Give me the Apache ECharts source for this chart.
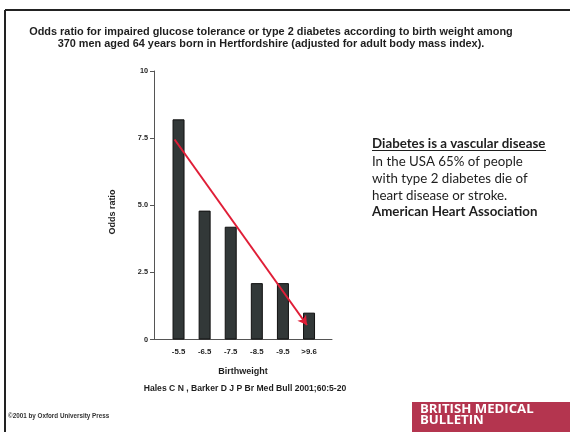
<!DOCTYPE html>
<html>
<head>
<meta charset="utf-8">
<script src="https://cdn.jsdelivr.net/npm/echarts@6/dist/echarts.min.js"></script>
<style>
  html, body { margin: 0; padding: 0; background: #ffffff; }
  #chart { width: 572px; height: 432px; }
</style>
</head>
<body>
<div id="chart"></div>
<script>
// Birth weight groups (lb) and the adjusted odds ratio for each group
const categories = ['-5.5', '-6.5', '-7.5', '-8.5', '-9.5', '>9.6'];
const oddsRatios = [8.2, 4.8, 4.2, 2.1, 2.1, 1.0];
const yTicks = [0, 2.5, 5, 7.5, 10];
// Trend arrow, given as [group position, odds ratio]
const trendStart = [-0.15, 7.45];
const trendEnd = [4.92, 0.54];

const chart = echarts.init(document.getElementById('chart'));

const ink = '#1e1e1e';
const sans = '"Liberation Sans", Arial, sans-serif';
const noteFont = 'Lato, "Open Sans", sans-serif';

chart.setOption({
  animation: false,
  backgroundColor: '#ffffff',
  title: {
    text: 'Odds ratio for impaired glucose tolerance or type 2 diabetes according to birth weight among\n370 men aged 64 years born in Hertfordshire (adjusted for adult body mass index).',
    left: 266,
    top: 21,
    textAlign: 'center',
    textStyle: {
      fontFamily: sans,
      fontWeight: 'bold',
      fontSize: 10.9,
      lineHeight: 12,
      color: ink
    }
  },
  grid: {
    left: 154,
    top: 71,
    width: 178,
    height: 268.5,
    containLabel: false
  },
  xAxis: {
    type: 'value',
    min: -0.94,
    max: 5.88,
    splitLine: { show: false },
    axisLine: { show: true, onZero: false, lineStyle: { color: '#555', width: 1 } },
    axisTick: { show: false },
    axisLabel: {
      show: true,
      customValues: categories.map((c, i) => i),
      formatter: v => categories[Math.round(v)],
      margin: 8,
      fontFamily: sans,
      fontWeight: 'bold',
      fontSize: 7.8,
      color: ink
    },
    name: 'Birthweight',
    nameLocation: 'middle',
    nameGap: 28,
    nameTextStyle: {
      fontFamily: sans,
      fontWeight: 'bold',
      fontSize: 9,
      color: ink
    }
  },
  yAxis: {
    type: 'value',
    min: yTicks[0],
    max: yTicks[yTicks.length - 1],
    interval: 2.5,
    splitLine: { show: false },
    axisLine: { show: true, onZero: false, lineStyle: { color: '#555', width: 1 } },
    axisTick: { show: true, length: 4, lineStyle: { color: '#555' } },
    axisLabel: {
      margin: 6,
      fontFamily: sans,
      fontWeight: 'bold',
      fontSize: 7.3,
      color: ink,
      formatter: v => (v === 0 ? '0' : v === 10 ? '10' : v.toFixed(1))
    }
  },
  series: [
    {
      type: 'bar',
      barWidth: 12,
      data: oddsRatios.map((v, i) => [i, v]),
      itemStyle: {
        color: '#323838',
        borderColor: '#111',
        borderWidth: 1
      },
      markLine: {
        silent: true,
        symbol: ['none', 'arrow'],
        symbolSize: [8, 9],
        label: { show: false },
        lineStyle: { color: '#e01e37', width: 2, type: 'solid' },
        data: [[{ coord: trendStart }, { coord: trendEnd }]]
      }
    }
  ],
  graphic: [
    // slide frame
    { type: 'line', shape: { x1: 5, y1: 10, x2: 570, y2: 10 }, style: { stroke: '#222', lineWidth: 2 } },
    { type: 'line', shape: { x1: 5, y1: 10, x2: 5, y2: 432 }, style: { stroke: '#222', lineWidth: 2 } },
    // y axis title
    {
      type: 'text',
      x: 113, y: 212, rotation: Math.PI / 2,
      style: {
        text: 'Odds ratio', fontFamily: sans, fontWeight: 'bold', fontSize: 9,
        fill: ink, align: 'center', verticalAlign: 'middle'
      }
    },
    // source
    {
      type: 'text', x: 245, y: 389,
      style: {
        text: 'Hales C N , Barker D J P Br Med Bull 2001;60:5-20',
        fontFamily: sans, fontWeight: 'bold', fontSize: 8.6,
        fill: ink, align: 'center', verticalAlign: 'middle'
      }
    },
    // side note
    {
      type: 'text', x: 372, y: 144,
      style: {
        text: 'Diabetes is a vascular disease', fontFamily: noteFont,
        fontWeight: 'bold', fontSize: 13.3, fill: ink, verticalAlign: 'middle'
      }
    },
    { type: 'line', shape: { x1: 372, y1: 150.5, x2: 546, y2: 150.5 }, style: { stroke: ink, lineWidth: 1 } },
    {
      type: 'text', x: 372, y: 153,
      style: {
        text: 'In the USA 65% of people\nwith type 2 diabetes die of\nheart disease or stroke.',
        fontFamily: noteFont, fontSize: 13.3, lineHeight: 17,
        fill: ink, verticalAlign: 'top'
      }
    },
    {
      type: 'text', x: 372, y: 212,
      style: {
        text: 'American Heart Association', fontFamily: noteFont,
        fontWeight: 'bold', fontSize: 13.3, fill: ink, verticalAlign: 'middle'
      }
    },
    // copyright
    {
      type: 'text', x: 8, y: 416,
      style: {
        text: '©2001 by Oxford University Press', fontFamily: sans, fontWeight: 'bold',
        fontSize: 6.3, fill: '#333', verticalAlign: 'middle'
      }
    },
    // journal badge
    { type: 'rect', shape: { x: 412, y: 402, width: 158, height: 30 }, style: { fill: '#b4354f' } },
    {
      type: 'text', x: 420, y: 404,
      style: {
        text: 'BRITISH MEDICAL\nBULLETIN', fontFamily: '"Open Sans", sans-serif', fontWeight: 'bold',
        fontSize: 13.2, lineHeight: 11, fill: '#ffffff', verticalAlign: 'top'
      }
    }
  ]
});
</script>
</body>
</html>
